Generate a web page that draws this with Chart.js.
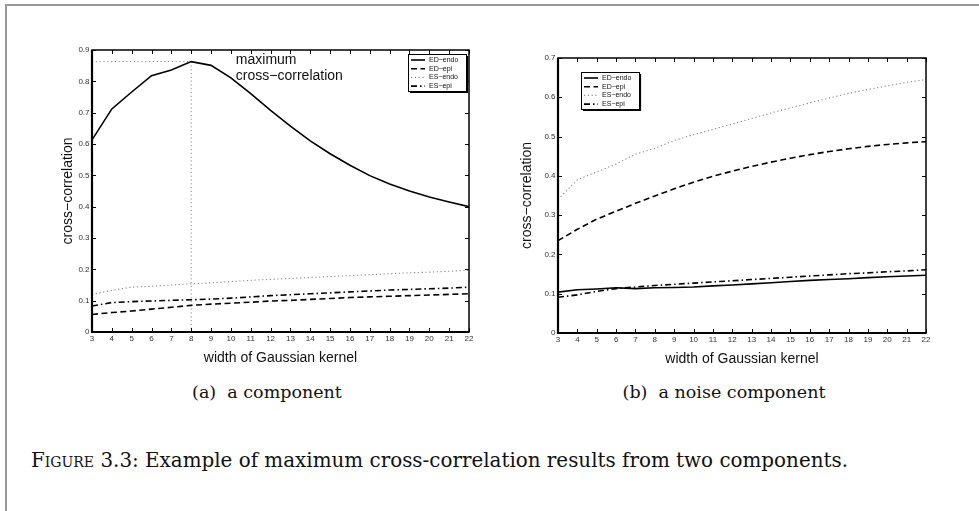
<!DOCTYPE html>
<html>
<head>
<meta charset="utf-8">
<script src="https://cdn.jsdelivr.net/npm/chart.js@4"></script>
<style>
  body { margin: 0; background: #fff; width: 979px; height: 511px; overflow: hidden; position: relative; }
  #frame { position: absolute; left: 5px; top: 4px; width: 990px; height: 520px; border-top: 2px solid #999; border-left: 2px solid #999; }
  canvas { position: absolute; top: 0; }
  #chartA { left: 0; }
  #chartB { left: 490px; }
  .sub { position: absolute; top: 392px; transform: translate(-50%, -50%); font-family: "DejaVu Serif", serif; font-size: 17.5px; color: #111; white-space: pre; }
  #cap { position: absolute; left: 31px; top: 460px; transform: translateY(-50%); font-family: "DejaVu Serif", serif; font-size: 19.9px; color: #111; white-space: pre; }
  #cap span { font-variant: small-caps; }
</style>
</head>
<body>
<div id="frame"></div>
<canvas id="chartA" width="490" height="380"></canvas>
<canvas id="chartB" width="489" height="380"></canvas>
<div class="sub" style="left:267px">(a)  a component</div>
<div class="sub" style="left:724px">(b)  a noise component</div>
<div id="cap"><span>Figure</span> 3.3: Example of maximum cross-correlation results from two components.</div>

<script>
// x axis: width of the Gaussian kernel
const kernelWidths = [3, 4, 5, 6, 7, 8, 9, 10, 11, 12, 13, 14, 15, 16, 17, 18, 19, 20, 21, 22];
const seriesNames = ["ED\u2212endo", "ED\u2212epi", "ES\u2212endo", "ES\u2212epi"];

// (a) a component
const compEDendo = [0.613, 0.712, 0.766, 0.818, 0.836, 0.863, 0.851, 0.811, 0.761, 0.707, 0.657, 0.610, 0.569, 0.532, 0.499, 0.472, 0.450, 0.431, 0.415, 0.400];
const compEDepi  = [0.056, 0.062, 0.067, 0.073, 0.079, 0.085, 0.089, 0.092, 0.095, 0.099, 0.101, 0.104, 0.107, 0.110, 0.112, 0.114, 0.116, 0.118, 0.120, 0.122];
const compESendo = [0.120, 0.133, 0.143, 0.146, 0.150, 0.154, 0.157, 0.161, 0.165, 0.168, 0.171, 0.174, 0.177, 0.180, 0.183, 0.186, 0.189, 0.191, 0.194, 0.197];
const compESepi  = [0.083, 0.094, 0.097, 0.099, 0.101, 0.103, 0.105, 0.108, 0.112, 0.116, 0.119, 0.122, 0.125, 0.128, 0.131, 0.134, 0.136, 0.138, 0.140, 0.143];

// (b) a noise component
const noiseEDendo = [0.104, 0.110, 0.112, 0.115, 0.113, 0.115, 0.116, 0.117, 0.120, 0.122, 0.125, 0.128, 0.131, 0.134, 0.136, 0.138, 0.141, 0.143, 0.145, 0.147];
const noiseEDepi  = [0.235, 0.264, 0.290, 0.310, 0.330, 0.349, 0.367, 0.384, 0.399, 0.412, 0.424, 0.435, 0.445, 0.454, 0.462, 0.469, 0.475, 0.480, 0.484, 0.487];
const noiseESendo = [0.340, 0.390, 0.410, 0.430, 0.455, 0.470, 0.490, 0.505, 0.518, 0.532, 0.546, 0.560, 0.573, 0.586, 0.598, 0.610, 0.620, 0.629, 0.638, 0.645];
const noiseESepi  = [0.091, 0.097, 0.106, 0.113, 0.117, 0.121, 0.124, 0.127, 0.130, 0.133, 0.136, 0.139, 0.142, 0.145, 0.148, 0.151, 0.153, 0.156, 0.158, 0.161];

const yMaxA = 0.9;
const yMaxB = 0.7;

const sansFont = '"Liberation Sans", Arial, Helvetica, sans-serif';

// matlab-ish line styles: solid, dashed, dotted, dash-dot
const lineStyles = [
  { borderColor: "#000", borderWidth: 1.6, borderDash: [] },
  { borderColor: "#000", borderWidth: 1.6, borderDash: [6, 3.5] },
  { borderColor: "#8a8a8a", borderWidth: 1.1, borderDash: [1.2, 2.6] },
  { borderColor: "#000", borderWidth: 1.6, borderDash: [6, 3, 1.5, 3] },
];

function toPoints(values) {
  return values.map((v, i) => ({ x: kernelWidths[i], y: v }));
}

function makeDatasets(seriesList) {
  return seriesList.map((values, i) => ({
    label: seriesNames[i],
    data: toPoints(values),
    ...lineStyles[i],
  }));
}

// box, inward ticks on all sides, legend and text notes
const matlabFrame = {
  id: "matlabFrame",
  afterDatasetsDraw(chart, args, opts) {
    const { ctx, chartArea: a, scales: { x, y } } = chart;
    ctx.save();
    ctx.strokeStyle = "#000";
    ctx.lineWidth = 1;
    ctx.beginPath();
    x.ticks.forEach(t => {
      const px = Math.round(x.getPixelForValue(t.value)) + 0.5;
      ctx.moveTo(px, a.bottom); ctx.lineTo(px, a.bottom - 4);
      ctx.moveTo(px, a.top); ctx.lineTo(px, a.top + 4);
    });
    y.ticks.forEach(t => {
      const py = Math.round(y.getPixelForValue(t.value)) + 0.5;
      ctx.moveTo(a.left, py); ctx.lineTo(a.left + 4, py);
      ctx.moveTo(a.right, py); ctx.lineTo(a.right - 4, py);
    });
    ctx.stroke();
    ctx.lineWidth = 1.5;
    ctx.strokeRect(a.left, a.top, a.right - a.left, a.bottom - a.top);
    ctx.lineWidth = 2.2;
    ctx.beginPath();
    ctx.moveTo(a.left, a.top); ctx.lineTo(a.left, a.bottom); ctx.lineTo(a.right, a.bottom);
    ctx.stroke();

    // legend
    const lg = opts.legend;
    const w = 58, h = 37, rowH = 8.7;
    const bx = lg.align === "right" ? a.right - lg.dx - w : a.left + lg.dx;
    const by = a.top + lg.dy;
    ctx.fillStyle = "#fff";
    ctx.fillRect(bx, by, w, h);
    ctx.lineWidth = 1;
    ctx.strokeRect(bx + 0.5, by + 0.5, w, h);
    ctx.lineWidth = 1.6;
    ctx.beginPath();
    ctx.moveTo(bx + w + 1.3, by + 2); ctx.lineTo(bx + w + 1.3, by + h + 1.3); ctx.lineTo(bx + 2, by + h + 1.3);
    ctx.stroke();
    ctx.font = "7px " + sansFont;
    ctx.textBaseline = "middle";
    chart.data.datasets.filter(d => !d.helper).forEach((ds, i) => {
      const cy = by + 6 + i * rowH;
      ctx.setLineDash(ds.borderDash);
      ctx.strokeStyle = ds.borderColor;
      ctx.lineWidth = ds.borderWidth;
      ctx.beginPath(); ctx.moveTo(bx + 3, cy); ctx.lineTo(bx + 17, cy); ctx.stroke();
      ctx.setLineDash([]);
      ctx.fillStyle = "#111";
      ctx.fillText(ds.label, bx + 21, cy);
    });

    if (opts.note) {
      ctx.font = "14px " + sansFont;
      ctx.fillStyle = "#111";
      ctx.textBaseline = "middle";
      const nx = x.getPixelForValue(opts.note.x);
      const ny = y.getPixelForValue(opts.note.y);
      opts.note.lines.forEach((line, i) => ctx.fillText(line, nx, ny + i * 16));
    }
    ctx.restore();
  }
};

function makeOptions(cfg) {
  return {
    responsive: false,
    animation: false,
    layout: { padding: cfg.padding },
    elements: { line: { tension: 0, fill: false }, point: { radius: 0 } },
    plugins: {
      legend: { display: false },
      tooltip: { enabled: false },
      matlabFrame: { legend: cfg.legend, note: cfg.note },
    },
    scales: {
      x: {
        type: "linear", min: 3, max: 22,
        grid: { display: false, drawTicks: false },
        border: { display: false },
        ticks: { stepSize: 1, autoSkip: false, maxRotation: 0, padding: 2, color: "#333", font: { family: sansFont, size: 8 } },
        title: { display: true, text: "width of Gaussian kernel", color: "#111", font: { family: sansFont, size: 14 }, padding: { top: 0, bottom: 5.6 } },
        afterFit: s => { s.height = 40; },
      },
      y: {
        type: "linear", min: 0, max: cfg.yMax,
        grid: { display: false, drawTicks: false },
        border: { display: false },
        ticks: { stepSize: 0.1, autoSkip: false, padding: 2.5, color: "#333", font: { family: sansFont, size: 8 },
                 callback: v => (v === 0 ? "0" : v.toFixed(1)) },
        title: { display: true, text: "cross\u2212correlation", color: "#111", font: { family: sansFont, size: 14 }, padding: { top: cfg.yTitlePad, bottom: 0 } },
        afterFit: s => { s.width = cfg.yWidth; },
      },
    },
  };
}

// peak of the ED-endo curve, marked with dotted guides
const peakIdx = compEDendo.indexOf(Math.max(...compEDendo));
const peakX = kernelWidths[peakIdx];
const peakY = compEDendo[peakIdx];

const guideStyle = { borderColor: "#8a8a8a", borderWidth: 1, borderDash: [1.2, 2.6], helper: true };

const datasetsA = makeDatasets([compEDendo, compEDepi, compESendo, compESepi]);
datasetsA.push({ label: "peak-h", data: [{ x: kernelWidths[0], y: peakY }, { x: peakX, y: peakY }], ...guideStyle });
datasetsA.push({ label: "peak-v", data: [{ x: peakX, y: peakY }, { x: peakX, y: 0 }], ...guideStyle });

new Chart(document.getElementById("chartA"), {
  type: "line",
  data: { datasets: datasetsA },
  options: makeOptions({
    yMax: yMaxA,
    padding: { top: 50, right: 21, bottom: 8, left: 0 },
    yWidth: 92,
    yTitlePad: 59.6,
    legend: { align: "right", dx: 3, dy: 4 },
    note: { x: 10.25, y: 0.868, lines: ["maximum", "cross\u2212correlation"] },
  }),
  plugins: [matlabFrame],
});

new Chart(document.getElementById("chartB"), {
  type: "line",
  data: { datasets: makeDatasets([noiseEDendo, noiseEDepi, noiseESendo, noiseESepi]) },
  options: makeOptions({
    yMax: yMaxB,
    padding: { top: 58, right: 53, bottom: 7, left: 0 },
    yWidth: 68,
    yTitlePad: 28.6,
    legend: { align: "left", dx: 23, dy: 14 },
  }),
  plugins: [matlabFrame],
});
</script>
</body>
</html>
